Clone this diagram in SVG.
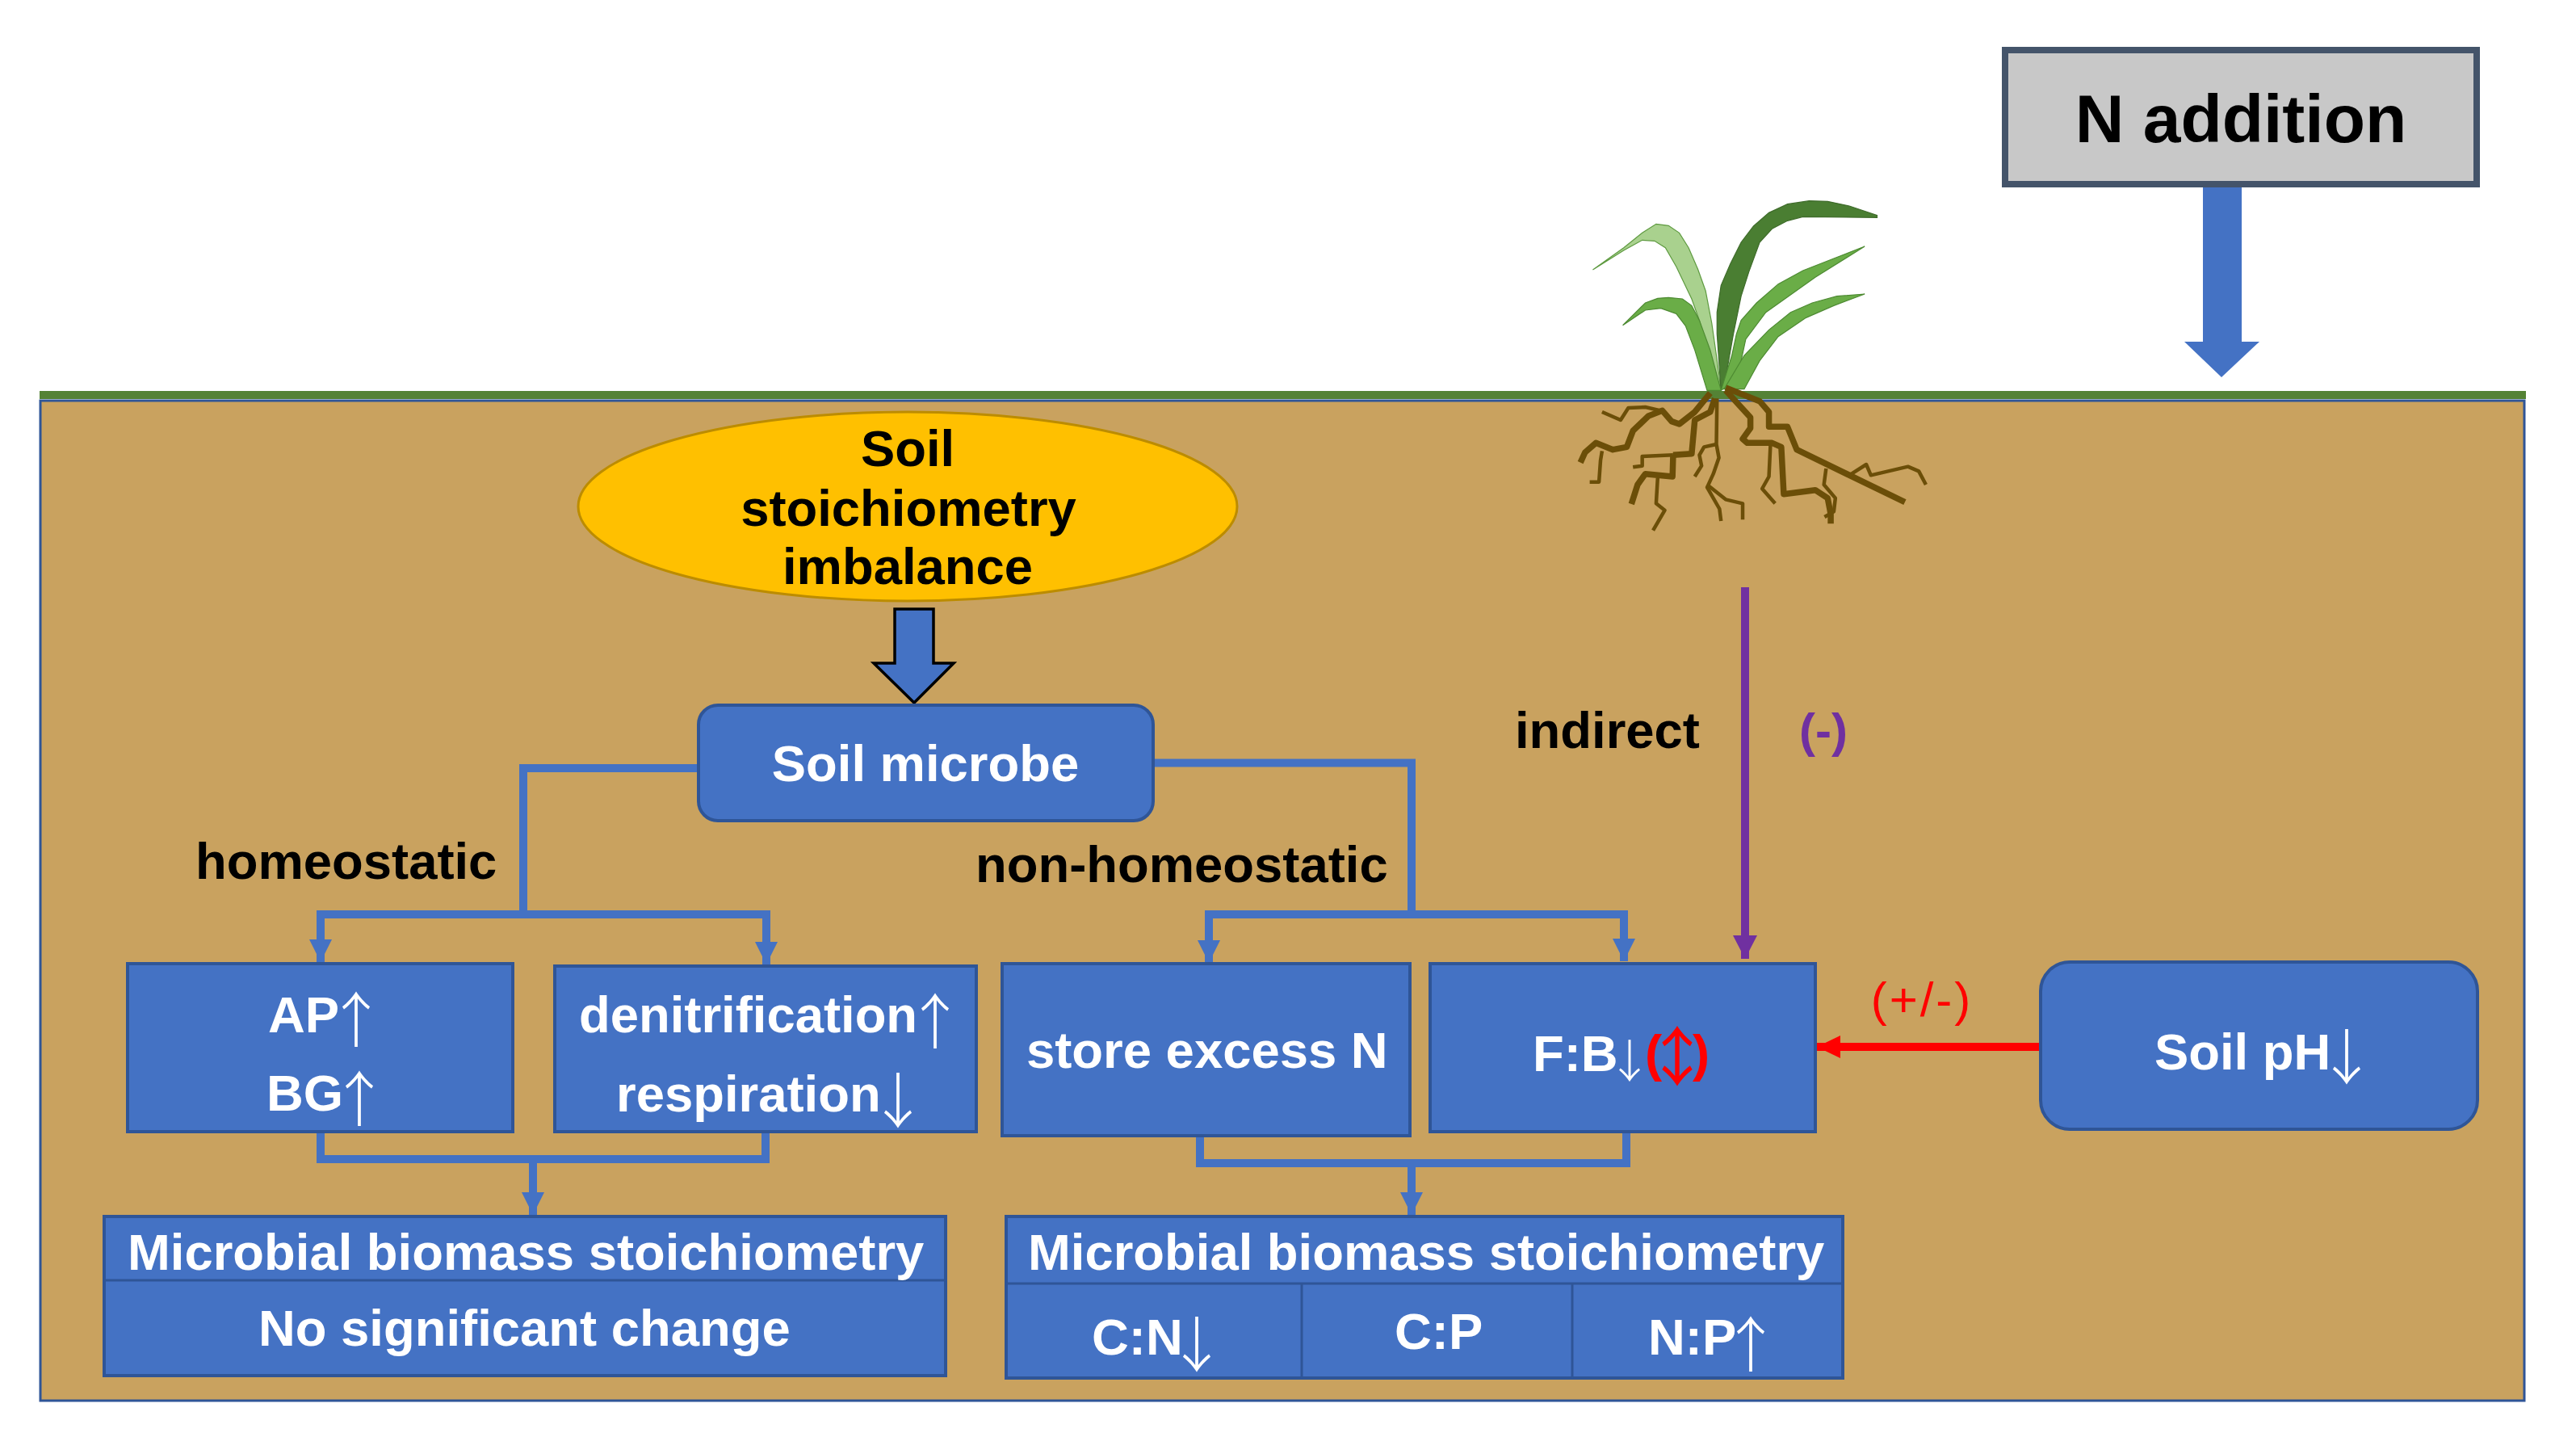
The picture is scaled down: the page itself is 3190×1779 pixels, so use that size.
<svg xmlns="http://www.w3.org/2000/svg" width="3190" height="1779" viewBox="0 0 3190 1779">
<defs>
<style>
text{font-family:"Liberation Sans",Arial,sans-serif;font-weight:700;font-size:63.4px}
.w{fill:#fff}.k{fill:#000}.m{text-anchor:middle}
.arr{font-family:"Noto Sans CJK SC","Liberation Sans",sans-serif;font-weight:300;text-anchor:middle;font-size:74px}
.box{fill:#4472C4;stroke:#2F5597;stroke-width:4}
.conn{fill:none;stroke:#4472C4;stroke-width:10;stroke-linejoin:miter}
.root{fill:none;stroke:#6B4E08;stroke-linejoin:round;stroke-linecap:butt;vector-effect:non-scaling-stroke}
.t1{stroke-width:7.5}.t2{stroke-width:4.5}
.leaf{stroke-width:1.2;vector-effect:non-scaling-stroke}
</style>
<marker id="hb" markerUnits="userSpaceOnUse" markerWidth="30" markerHeight="30" refX="28" refY="15" orient="auto"><path d="M0 1L28 15L0 29z" fill="#4472C4"/></marker>
<marker id="hp" markerUnits="userSpaceOnUse" markerWidth="30" markerHeight="32" refX="29" refY="16" orient="auto"><path d="M0 1L29 16L0 31z" fill="#7030A0"/></marker>
<marker id="hr" markerUnits="userSpaceOnUse" markerWidth="30" markerHeight="30" refX="29" refY="15" orient="auto"><path d="M0 1L29 15L0 29z" fill="#F00"/></marker>
</defs>
<rect width="3190" height="1779" fill="#fff"/>
<g id="soil">
<rect x="50" y="496" width="3076" height="1238" fill="#C9A25F" stroke="#2F5597" stroke-width="3"/>
<rect x="49" y="484" width="3079" height="10" fill="#548235"/>
</g>
<g id="plant" transform="translate(1850 200) scale(.38265 .33333)">
<path class="leaf" fill="#A9D18E" stroke="#5E9A40" d="M320 402L420 320L480 265L525 232L565 238L600 265L630 320L660 400L685 480L705 600L720 720L735 850L705 800L690 690L665 590L640 510L590 390L555 320L520 295L480 292L420 330Z"/>
<path class="leaf" fill="#4A7E32" stroke="#3E6B2A" d="M1240 200L1150 165L1080 148L1020 146L950 158L890 190L840 240L800 300L765 380L735 460L722 560L722 640L735 850L752 790L775 640L800 500L825 410L860 300L900 250L950 220L1000 205L1240 208Z"/>
<path class="leaf" fill="#6AAD47" stroke="#4D8A32" d="M417 608L490 525L530 508L565 505L610 510L640 535L665 590L700 700L735 850H690L650 700L620 610L590 565L540 545L490 552Z"/>
<path class="leaf" fill="#6AAD47" stroke="#4D8A32" d="M1200 315L1100 360L1000 405L920 455L850 525L800 590L785 640L770 720L735 850L775 820L800 740L815 660L880 560L960 495L1040 430Z"/>
<path class="leaf" fill="#6AAD47" stroke="#4D8A32" d="M1200 492L1110 500L1030 525L960 560L890 625L810 720L745 845H810L860 740L920 650L1010 580L1100 535Z"/>
<path class="root t1" d="M700 860L650 930L600 975L575 965L545 925L500 945L450 1000L430 1060L385 1070L330 1045L295 1080L280 1118"/>
<path class="root t2" d="M540 925L490 912L435 915L410 960L350 930"/>
<path class="root t2" d="M350 1075L345 1110L340 1190H310"/>
<path class="root t1" d="M715 880L700 930L650 960L640 1085L580 1090"/>
<path class="root t2" d="M580 1090L480 1095L480 1130L450 1135"/>
<path class="root t1" d="M580 1090L578 1170L490 1160L465 1200L445 1272"/>
<path class="root t2" d="M530 1175L525 1270L553 1295L515 1370"/>
<path class="root t2" d="M722 880L720 1050L728 1100L710 1160L690 1210L730 1290L735 1335"/>
<path class="root t2" d="M720 1050L680 1060L665 1090L672 1130L650 1170"/>
<path class="root t2" d="M690 1200L750 1255L805 1270L805 1330"/>
<path class="root t1" d="M750 850L790 900L830 950L830 990L805 1030L820 1045H900L930 1060L938 1235L1040 1220L1080 1250L1090 1310V1345"/>
<path class="root t2" d="M895 1050L890 1170L868 1215L910 1270"/>
<path class="root t1" d="M750 840L860 890L890 930V985H950L980 1070L1330 1265"/>
<path class="root t2" d="M1075 1140L1068 1200L1105 1250L1100 1300L1070 1320"/>
<path class="root t2" d="M1150 1165L1205 1125L1220 1165L1340 1133L1375 1150L1398 1200"/>
</g>
<g id="connectors">
<path id="n-arrow" d="M2728 232V423H2705L2751 467L2798 423H2776V232Z" fill="#4472C4"/>
<path id="soil-arrow" d="M1108 754V821H1082L1132 870L1181 821H1156V754Z" fill="#4472C4" stroke="#000" stroke-width="3.5"/>
<path class="conn" d="M864 951H648V1132"/>
<path class="conn" d="M397 1132H949"/>
<path class="conn" d="M397 1127V1191" marker-end="url(#hb)"/>
<path class="conn" d="M949 1127V1194" marker-end="url(#hb)"/>
<path class="conn" d="M1430 944.5H1748V1132"/>
<path class="conn" d="M1497 1132H2011"/>
<path class="conn" d="M1497 1127V1192" marker-end="url(#hb)"/>
<path class="conn" d="M2011 1127V1190" marker-end="url(#hb)"/>
<path class="conn" d="M397 1401V1435H948V1401"/>
<path class="conn" d="M660 1435V1504" marker-end="url(#hb)"/>
<path class="conn" d="M1486 1408V1440H2014V1403"/>
<path class="conn" d="M1748 1440V1504" marker-end="url(#hb)"/>
<path d="M2161 727V1187" fill="none" stroke="#7030A0" stroke-width="10" marker-end="url(#hp)"/>
<path d="M2526 1296H2250" fill="none" stroke="#F00" stroke-width="10" marker-end="url(#hr)"/>
</g>
<g id="n-addition">
<rect x="2483" y="62" width="584" height="166" fill="#C8C8C8" stroke="#44546A" stroke-width="8"/>
<text class="k m" x="2775" y="176" style="font-size:84px">N addition</text>
</g>
<g id="imbalance">
<ellipse cx="1124" cy="627" rx="408" ry="117" fill="#FFC000" stroke="#BC8C00" stroke-width="3"/>
<text class="k m"><tspan x="1124" y="577">Soil</tspan><tspan x="1125" y="651">stoichiometry</tspan><tspan x="1124" y="723">imbalance</tspan></text>
</g>
<g id="soil-microbe">
<rect class="box" x="865" y="873" width="563" height="143" rx="24"/>
<text class="w m" x="1146" y="967">Soil microbe</text>
</g>
<g id="label-homeostatic"><text class="k" x="242" y="1088">homeostatic</text></g>
<g id="label-non-homeostatic"><text class="k" x="1208" y="1092">non-homeostatic</text></g>
<g id="label-indirect"><text class="k" x="1876" y="926">indirect</text></g>
<g id="label-minus"><text x="2258" y="925" text-anchor="middle" style="font-size:60px;fill:#7030A0">(-)</text></g>
<g id="label-plusminus"><text x="2380" y="1258" text-anchor="middle" style="font-size:60px;font-weight:400;fill:#F00;letter-spacing:3px">(+/-)</text></g>
<g id="ap-bg">
<rect class="box" x="158" y="1193" width="477" height="208"/>
<text class="w"><tspan x="332" y="1278">AP</tspan><tspan class="arr" x="441" y="1290">↑</tspan><tspan x="330" y="1375">BG</tspan><tspan class="arr" x="445" y="1388">↑</tspan></text>
</g>
<g id="denit">
<rect class="box" x="687" y="1196" width="522" height="205"/>
<text class="w"><tspan x="717" y="1278">denitrification</tspan><tspan class="arr" x="1158" y="1292">↑</tspan><tspan x="763" y="1376">respiration</tspan><tspan class="arr" x="1112" y="1390">↓</tspan></text>
</g>
<g id="store">
<rect class="box" x="1241" y="1193" width="505" height="213"/>
<text class="w" x="1271" y="1322">store excess N</text>
</g>
<g id="fb">
<rect class="box" x="1771" y="1193" width="477" height="208"/>
<text class="w"><tspan x="1898" y="1326">F:B</tspan><tspan class="arr" x="2018" y="1334" style="font-size:56px">↓</tspan><tspan style="fill:#F00" x="2037" y="1326">(</tspan><tspan class="arr" style="fill:#F00;font-weight:400;font-size:80px" x="2077" y="1337">↕</tspan><tspan style="fill:#F00" x="2096" y="1326">)</tspan></text>
</g>
<g id="soil-ph">
<rect class="box" x="2527" y="1191" width="541" height="207" rx="36"/>
<text class="w"><tspan x="2668" y="1324">Soil pH</tspan><tspan class="arr" x="2906" y="1336">↓</tspan></text>
</g>
<g id="biomass-left">
<rect class="box" x="129" y="1506" width="1042" height="197"/>
<path d="M129 1585H1171" stroke="#2F5597" stroke-width="3"/>
<text class="w" x="158" y="1572">Microbial biomass stoichiometry</text>
<text class="w" x="320" y="1666">No significant change</text>
</g>
<g id="biomass-right">
<rect class="box" x="1246" y="1506" width="1036" height="200"/>
<path d="M1246 1589H2282M1612 1589V1706M1947 1589V1706" stroke="#2F5597" stroke-width="3" fill="none"/>
<text class="w" x="1273" y="1572">Microbial biomass stoichiometry</text>
<text class="w"><tspan x="1352" y="1677">C:N</tspan><tspan class="arr" x="1482" y="1692">↓</tspan></text>
<text class="w" x="1727" y="1670">C:P</text>
<text class="w"><tspan x="2041" y="1677">N:P</tspan><tspan class="arr" x="2168" y="1692">↑</tspan></text>
</g>
</svg>
